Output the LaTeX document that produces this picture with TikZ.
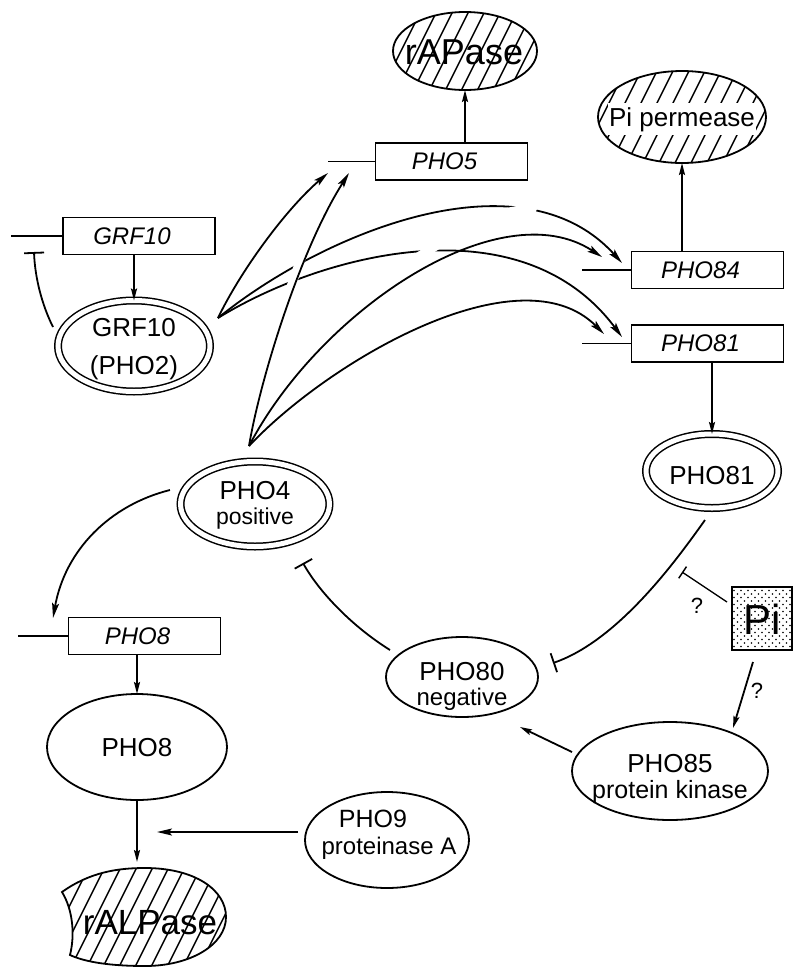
\documentclass[tikz,border=0pt]{standalone}
\usepackage{fontspec}
\setmainfont{Liberation Sans}
\usetikzlibrary{shapes.geometric,arrows.meta,calc}
\newcommand\fsz[1]{\fontsize{#1}{#1}\selectfont}
\begin{document}
\begin{tikzpicture}[x=1pt,y=-1pt,
  every node/.style={inner sep=0pt, outer sep=0pt},
  gene/.style={draw, line width=1.3pt, minimum width=152pt, minimum height=37pt,
    font=\fsz{24}\itshape, execute at begin node={\kern-14pt}},
  prot/.style={ellipse, draw, line width=1.8pt},
  dprot/.style={ellipse, draw, double, double distance=5pt, line width=1.5pt},
  ln/.style={line width=1.8pt},
  arr/.style={ln, -{Stealth[length=15pt,width=7pt,inset=3pt]}},
  varr/.style={ln, -{Stealth[length=12pt,width=6pt,inset=2pt]}},
  inh/.style={ln, -{Bar[width=20pt,line width=1.8pt]}},
  stubline/.style={line width=1.3pt},
  gap/.style={white, line width=9pt},
  txt/.style={anchor=base},
  hatch/.style={path picture={\foreach \k in {-12,...,12}{\draw[line width=1.4pt]
      ([xshift=\k*16pt-60pt,yshift=-120pt]path picture bounding box.center) -- ++(120pt,240pt);}}},
  dots/.style={path picture={\foreach \i in {-5,...,5}{\foreach \j in {-6,...,6}{
      \fill ([xshift=\i*7pt,yshift=\j*7pt]path picture bounding box.center) circle (0.9pt);
      \fill ([xshift=\i*7pt+3.5pt,yshift=\j*7pt+3.5pt]path picture bounding box.center) circle (0.9pt);}}}}
]
\useasboundingbox (0,0) rectangle (793,975);
\fill[white] (0,0) rectangle (793,975);

% ---------- top: PHO5 / rAPase ----------
\node[prot, hatch, minimum width=144pt, minimum height=78pt] (rapase) at (465,51) {};
\node[txt, font=\fsz{36}] (rapaset) at (464,64) {rAPase};
\node[gene] (pho5) at (451.5,161.5) {PHO5};
\coordinate (pho5s) at (328,161.5);
\draw[stubline] (pho5s) -- (pho5.west);
\draw[varr] (pho5.north -| rapase.south) -- (rapase.south);

% ---------- Pi permease / PHO84 / PHO81 ----------
\node[prot, hatch, minimum width=168pt, minimum height=92pt] (piperm) at (682,117) {};
\node[txt, font=\fsz{26}, fill=white, inner xsep=1pt, inner ysep=4pt] (pipermt) at (682,126) {Pi permease};
\node[gene] (pho84) at (707.5,270) {PHO84};
\coordinate (pho84s) at (582,270);
\draw[stubline] (pho84s) -- (pho84.west);
\draw[varr] (pho84.north -| piperm.south) -- (piperm.south);

\node[gene] (pho81b) at (707.5,343.5) {PHO81};
\coordinate (pho81s) at (582,343.5);
\draw[stubline] (pho81s) -- (pho81b.west);
\node[dprot, minimum width=132pt, minimum height=74pt] (pho81) at (712,471) {};
\node[txt, font=\fsz{26}] (pho81t) at (712,484) {PHO81};
\draw[varr] (pho81b.south -| pho81.north) -- (pho81.north);

% ---------- GRF10 ----------
\node[gene] (grf10b) at (139,236) {GRF10};
\coordinate (grf10s) at (11,236);
\draw[stubline] (grf10s) -- (grf10b.west);
\node[dprot, minimum width=152pt, minimum height=91pt] (grf10) at (134,346) {};
\node[txt, font=\fsz{26}] (grf10t1) at (134,336) {GRF10};
\node[txt, font=\fsz{26}] (grf10t2) at (134,374) {(PHO2)};
\draw[varr] (grf10b.south -| grf10.north) -- (grf10.north);
\coordinate (gi1) at (53,327);
\coordinate (gi2) at (34,252);
\draw[inh] (gi1) .. controls (42,305) and (35,278) .. (gi2);

% ---------- PHO4 ----------
\node[dprot, minimum width=149pt, minimum height=85pt] (pho4) at (255,504) {};
\node[txt, font=\fsz{26}] (pho4t1) at (255,499) {PHO4};
\node[txt, font=\fsz{23}] (pho4t2) at (255,524) {positive};

% ---------- activation arrows ----------
\coordinate (ga) at (218,318);
\coordinate (pa) at (249,446);
\coordinate (t5a) at (328,173);
\coordinate (t5b) at (349,173);
\coordinate (t84a) at (622,263);
\coordinate (t84b) at (602,257);
\coordinate (t81a) at (622,337);
\coordinate (t81b) at (604,334);
\draw[arr] (ga) .. controls (240,272) and (285,210) .. (t5a);
\draw[arr] (ga) .. controls (320,235) and (520,150) .. (t84a);
\draw[arr] (ga) .. controls (320,255) and (520,200) .. (t81a);
\draw[gap, shorten <=40pt, shorten >=60pt] (pa) .. controls (260,380) and (300,250) .. (t5b);
\draw[gap, shorten <=60pt, shorten >=80pt] (pa) .. controls (320,310) and (500,190) .. (t84b);
\draw[arr] (pa) .. controls (260,380) and (300,250) .. (t5b);
\draw[arr] (pa) .. controls (320,310) and (500,190) .. (t84b);
\draw[arr] (pa) .. controls (330,360) and (520,250) .. (t81b);

% ---------- PHO8 branch ----------
\coordinate (p48) at (170,490);
\coordinate (t8) at (53,618);
\draw[arr] (p48) .. controls (110,505) and (65,550) .. (t8);
\node[gene] (pho8b) at (144.5,636) {PHO8};
\coordinate (pho8s) at (18,636);
\draw[stubline] (pho8s) -- (pho8b.west);
\node[prot, minimum width=180pt, minimum height=106pt] (pho8) at (137,747) {};
\node[txt, font=\fsz{26}] (pho8t) at (137,756) {PHO8};
\draw[varr] (pho8b.south -| pho8.north) -- (pho8.north);

\path[draw, ln, hatch] (62,892) .. controls (90,872) and (118,868) .. (145,868)
  .. controls (195,868) and (226,890) .. (226,917)
  .. controls (226,945) and (190,966) .. (145,966)
  .. controls (110,966) and (85,962) .. (70,955)
  .. controls (75,935) and (73,910) .. (62,892) -- cycle;
\coordinate (ralp) at (137,862);
\node[txt, font=\fsz{35}] (ralpt) at (150,934) {rALPase};
\draw[varr] (pho8.south) -- (ralp);

\node[prot, minimum width=164pt, minimum height=96pt] (pho9) at (387,840) {};
\node[txt, font=\fsz{25}] (pho9t1) at (373,827) {PHO9};
\node[txt, font=\fsz{24}] (pho9t2) at (389,854) {proteinase A};
\coordinate (s9) at (298,832);
\coordinate (t9) at (157,832);
\draw[arr] (s9) -- (t9);

% ---------- negative loop ----------
\node[prot, minimum width=152pt, minimum height=80pt] (pho80) at (462,677) {};
\node[txt, font=\fsz{26}] (pho80t1) at (462,680) {PHO80};
\node[txt, font=\fsz{24}] (pho80t2) at (462,705) {negative};

\node[prot, minimum width=196pt, minimum height=98pt] (pho85) at (670,771) {};
\node[txt, font=\fsz{26}] (pho85t1) at (670,772) {PHO85};
\node[txt, font=\fsz{25}] (pho85t2) at (670,798) {protein kinase};

\node[draw, line width=1.8pt, dots, minimum width=60pt, minimum height=63pt] (pi) at (762,618.5) {};
\node[txt, font=\fsz{42}] (pit) at (762,634) {Pi};

\coordinate (i1s) at (705,520);
\coordinate (i1e) at (553,663);
\draw[inh] (i1s) .. controls (680,555) and (620,640) .. (i1e);
\coordinate (i2s) at (390,650);
\coordinate (i2e) at (303,563);
\draw[inh] (i2s) .. controls (350,625) and (318,590) .. (i2e);

\coordinate (pis) at (727,602);
\coordinate (pie) at (682,572);
\draw[line width=1.3pt, -{Bar[width=14pt,line width=1.5pt]}] (pis) -- (pie);
\node[txt, font=\fsz{22}] (q1) at (697,613) {?};
\coordinate (pk1) at (753,662);
\coordinate (pk2) at (733,728);
\draw[varr] (pk1) -- (pk2);
\node[txt, font=\fsz{22}] (q2) at (757,698) {?};
\coordinate (k1) at (572,752);
\coordinate (k2) at (520,727);
\draw[varr] (k1) -- (k2);
\end{tikzpicture}
\end{document}
